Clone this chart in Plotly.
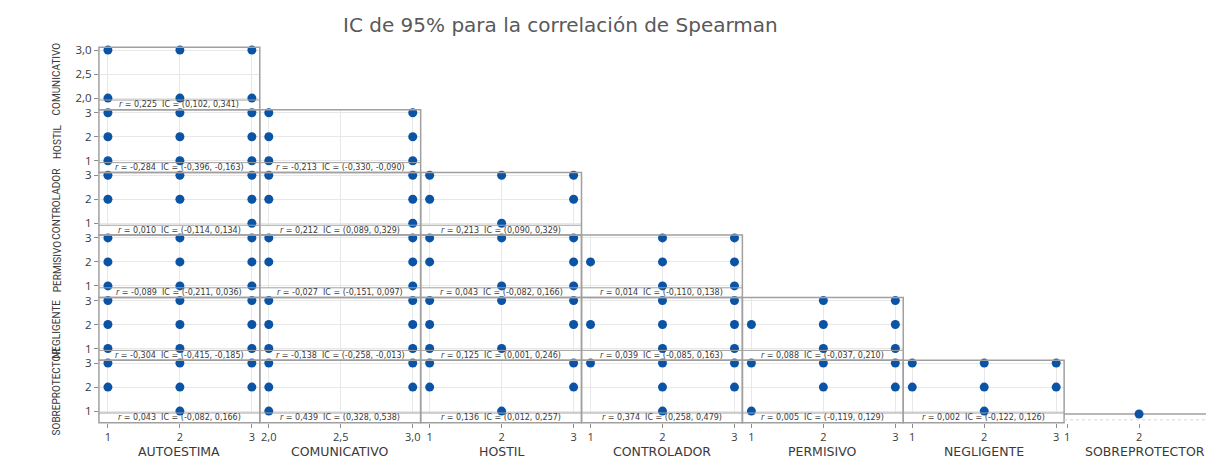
import plotly.graph_objects as go

W, H = 1214, 470
# la página tiene 8px de margen: la figura se dibuja dentro de ese hueco
OFF = 8
FW, FH = W - OFF, H - 2 * OFF

# --- datos -------------------------------------------------------------
variables = ["AUTOESTIMA", "COMUNICATIVO", "HOSTIL", "CONTROLADOR",
             "PERMISIVO", "NEGLIGENTE", "SOBREPROTECTOR"]
filas = variables[1:]

todos = [(1, 3), (2, 3), (3, 3), (1, 2), (2, 2), (3, 2), (1, 1), (2, 1), (3, 1)]

# combinaciones observadas (x, y) en cada panel, una lista por columna
pts_comunicativo = [
    [(1, 3), (2, 3), (3, 3), (1, 2), (2, 2), (3, 2)],
]
pts_hostil = [
    todos,
    [(2, 3), (3, 3), (2, 2), (3, 2), (2, 1), (3, 1)],
]
pts_controlador = [
    [(1, 3), (2, 3), (3, 3), (1, 2), (2, 2), (3, 2), (3, 1)],
    [(2, 3), (3, 3), (2, 2), (3, 2), (3, 1)],
    [(1, 3), (2, 3), (3, 3), (1, 2), (3, 2), (2, 1)],
]
pts_permisivo = [
    todos,
    [(2, 3), (3, 3), (2, 2), (3, 2), (3, 1)],
    [(1, 3), (2, 3), (3, 3), (1, 2), (3, 2), (2, 1), (3, 1)],
    [(2, 3), (3, 3), (1, 2), (2, 2), (3, 2), (2, 1), (3, 1)],
]
pts_negligente = [
    todos,
    [(2, 3), (3, 3), (2, 2), (3, 2), (2, 1), (3, 1)],
    [(1, 3), (2, 3), (3, 3), (1, 2), (3, 2), (1, 1), (2, 1)],
    [(2, 3), (3, 3), (1, 2), (2, 2), (3, 2), (2, 1), (3, 1)],
    [(2, 3), (3, 3), (1, 2), (2, 2), (3, 2), (2, 1), (3, 1)],
]
pts_sobreprotector = [
    [(1, 3), (2, 3), (3, 3), (1, 2), (2, 2), (3, 2), (2, 1)],
    [(2, 3), (3, 3), (2, 2), (3, 2), (2, 1)],
    [(1, 3), (3, 3), (1, 2), (3, 2), (2, 1)],
    [(1, 3), (2, 3), (3, 3), (2, 2), (3, 2), (2, 1)],
    [(1, 3), (2, 3), (3, 3), (2, 2), (3, 2), (1, 1)],
    [(1, 3), (2, 3), (3, 3), (1, 2), (2, 2), (3, 2), (2, 1)],
]
puntos = [pts_comunicativo, pts_hostil, pts_controlador,
          pts_permisivo, pts_negligente, pts_sobreprotector]

# correlaciones de Spearman e IC 95%
r_comunicativo = [0.225]
ic_comunicativo = [(0.102, 0.341)]
r_hostil = [-0.284, -0.213]
ic_hostil = [(-0.396, -0.163), (-0.330, -0.090)]
r_controlador = [0.010, 0.212, 0.213]
ic_controlador = [(-0.114, 0.134), (0.089, 0.329), (0.090, 0.329)]
r_permisivo = [-0.089, -0.027, 0.043, 0.014]
ic_permisivo = [(-0.211, 0.036), (-0.151, 0.097), (-0.082, 0.166), (-0.110, 0.138)]
r_negligente = [-0.304, -0.138, 0.125, 0.039, 0.088]
ic_negligente = [(-0.415, -0.185), (-0.258, -0.013), (0.001, 0.246),
                 (-0.085, 0.163), (-0.037, 0.210)]
r_sobreprotector = [0.043, 0.439, 0.136, 0.374, 0.005, 0.002]
ic_sobreprotector = [(-0.082, 0.166), (0.328, 0.538), (0.012, 0.257),
                     (0.258, 0.479), (-0.119, 0.129), (-0.122, 0.126)]
r_vals = [r_comunicativo, r_hostil, r_controlador, r_permisivo,
          r_negligente, r_sobreprotector]
ic_vals = [ic_comunicativo, ic_hostil, ic_controlador, ic_permisivo,
           ic_negligente, ic_sobreprotector]

# última columna (SOBREPROTECTOR)
diag_x = [2, 3]
diag_y = [0.5, 0.5]

# --- estilo ------------------------------------------------------------
AZUL = "#0b53a5"
MARCO = "#a0a0a0"
GRID = "#e8e8e8"
TXT = "#3a3a3a"
FONT = "Open Sans, Noto Sans, sans-serif"
WIDE = "DejaVu Sans, Verdana, sans-serif"


def fx(x):
    return (x - OFF) / FW


def fy(y):
    return 1 - (y - OFF) / FH


def fmt(v):
    return f"{v:.3f}".replace(".", ",")


col_left = [99 + 161 * j for j in range(7)]
row_top = [43 + 64 * i for i in range(6)]
PLOT_H = 54
ROW_H = 64
COL_W = 161

fig = go.Figure()
layout = {}
shapes = []
annotations = []

k = 0
for i, fila in enumerate(filas):
    for j in range(i + 1):
        k += 1
        xa = "x" if k == 1 else f"x{k}"
        ya = "y" if k == 1 else f"y{k}"
        xs = [p[0] for p in puntos[i][j]]
        ys = [p[1] for p in puntos[i][j]]
        fig.add_trace(go.Scatter(x=xs, y=ys, mode="markers", xaxis=xa, yaxis=ya,
                                 marker=dict(color=AZUL, size=9), cliponaxis=False,
                                 showlegend=False, hoverinfo="skip"))
        x0, x1 = col_left[j], col_left[j] + COL_W
        y0 = row_top[i]
        bottom_row = i == len(filas) - 1

        if j == 1:
            xr = [1.9375, 3.055]
            xt = [2, 2.5, 3]
            xfmt = ".1f"
        else:
            xr = [0.875, 3.11]
            xt = [1, 2, 3]
            xfmt = "d"
        if i == 0:
            yr = [1.96, 3.06]
            yt = [2, 2.5, 3]
            yfmt = ".1f"
        else:
            yr = [0.92, 3.12]
            yt = [1, 2, 3]
            yfmt = "d"

        xaxis = dict(domain=[fx(x0), fx(x1)], range=xr, tickvals=xt, tickformat=xfmt,
                     showgrid=True, gridcolor=GRID, gridwidth=1, zeroline=False,
                     showline=False, showticklabels=bottom_row,
                     ticks="outside" if bottom_row else "", ticklen=4,
                     tickcolor="#8c8c8c", tickfont=dict(size=11, color=TXT, family=FONT))
        if bottom_row:
            xaxis.update(anchor="free", position=fy(y0 + ROW_H))
        else:
            xaxis.update(anchor=ya)
        yaxis = dict(domain=[fy(y0 + PLOT_H), fy(y0)], range=yr, tickvals=yt,
                     tickformat=yfmt, anchor=xa, showgrid=True, gridcolor=GRID,
                     zeroline=False, showline=False, showticklabels=(j == 0),
                     ticks="outside" if j == 0 else "", ticklen=4, tickcolor="#8c8c8c",
                     tickfont=dict(size=11.5, color=TXT, family=FONT))
        layout["xaxis" if k == 1 else f"xaxis{k}"] = xaxis
        layout["yaxis" if k == 1 else f"yaxis{k}"] = yaxis

        # marco del panel y franja del rótulo
        shapes.append(dict(type="rect", xref="paper", yref="paper",
                           x0=fx(x0), x1=fx(x1), y0=fy(y0 + ROW_H), y1=fy(y0),
                           line=dict(color=MARCO, width=1.5)))
        shapes.append(dict(type="line", xref="paper", yref="paper",
                           x0=fx(x0), x1=fx(x1), y0=fy(y0 + PLOT_H), y1=fy(y0 + PLOT_H),
                           line=dict(color=MARCO, width=1)))
        r = r_vals[i][j]
        lo, hi = ic_vals[i][j]
        annotations.append(dict(
            xref="paper", yref="paper", x=fx((x0 + x1) / 2),
            y=fy(y0 + PLOT_H + (ROW_H - PLOT_H) / 2),
            text=f"<i>r</i> = {fmt(r)} &nbsp;IC = ({fmt(lo)}, {fmt(hi)})",
            showarrow=False, xanchor="center", yanchor="middle",
            font=dict(size=8, color=TXT, family=WIDE)))

# panel final de SOBREPROTECTOR (aplastado)
k += 1
xa, ya = f"x{k}", f"y{k}"
fig.add_trace(go.Scatter(x=diag_x, y=diag_y, mode="markers", xaxis=xa, yaxis=ya,
                         marker=dict(color=AZUL, size=9), cliponaxis=False,
                         showlegend=False, hoverinfo="skip"))
xl = col_left[6]
layout[f"xaxis{k}"] = dict(domain=[fx(xl), 1], range=[1 - 3 / 72, 3 + 2 / 72],
                           tickvals=[1, 2, 3], showgrid=False, zeroline=False,
                           showline=False, ticks="outside", ticklen=4, tickcolor="#8c8c8c",
                           ticklabeloverflow="allow", anchor=ya,
                           tickfont=dict(size=11, color=TXT, family=FONT))
layout[f"yaxis{k}"] = dict(domain=[fy(427), fy(413)], range=[0.05, 0.75],
                           showgrid=False, zeroline=False, showticklabels=False,
                           anchor=xa)
shapes.append(dict(type="line", xref="paper", yref="paper", x0=fx(xl), x1=1,
                   y0=fy(418), y1=fy(418), line=dict(color=MARCO, width=1.5), layer="below"))
shapes.append(dict(type="line", xref="paper", yref="paper", x0=fx(xl), x1=1,
                   y0=fy(424), y1=fy(424), line=dict(color="#d6d6d6", width=1, dash="dot")))

# nombres de variables
for j, v in enumerate(variables):
    annotations.append(dict(xref="paper", yref="paper", x=fx(col_left[j] + COL_W / 2),
                            y=fy(456), text=v, showarrow=False, xanchor="center",
                            yanchor="middle", font=dict(size=12.5, color=TXT, family=WIDE)))
for i, f in enumerate(filas):
    annotations.append(dict(xref="paper", yref="paper", x=fx(57),
                            y=fy(row_top[i] + ROW_H / 2), text=f, textangle=-90,
                            showarrow=False, xanchor="center", yanchor="middle",
                            font=dict(size=10, color=TXT, family="Roboto, sans-serif")))

annotations.append(dict(xref="paper", yref="paper", x=fx(561), y=fy(20),
                        text="IC de 95% para la correlación de Spearman",
                        showarrow=False, xanchor="center", yanchor="middle",
                        font=dict(size=20, color="#595959", family=WIDE)))

fig.update_layout(width=FW, height=FH, margin=dict(l=0, r=0, t=0, b=0),
                  paper_bgcolor="white", plot_bgcolor="white", separators=",.",
                  shapes=shapes, annotations=annotations, **layout)

fig.write_html("out.html")
